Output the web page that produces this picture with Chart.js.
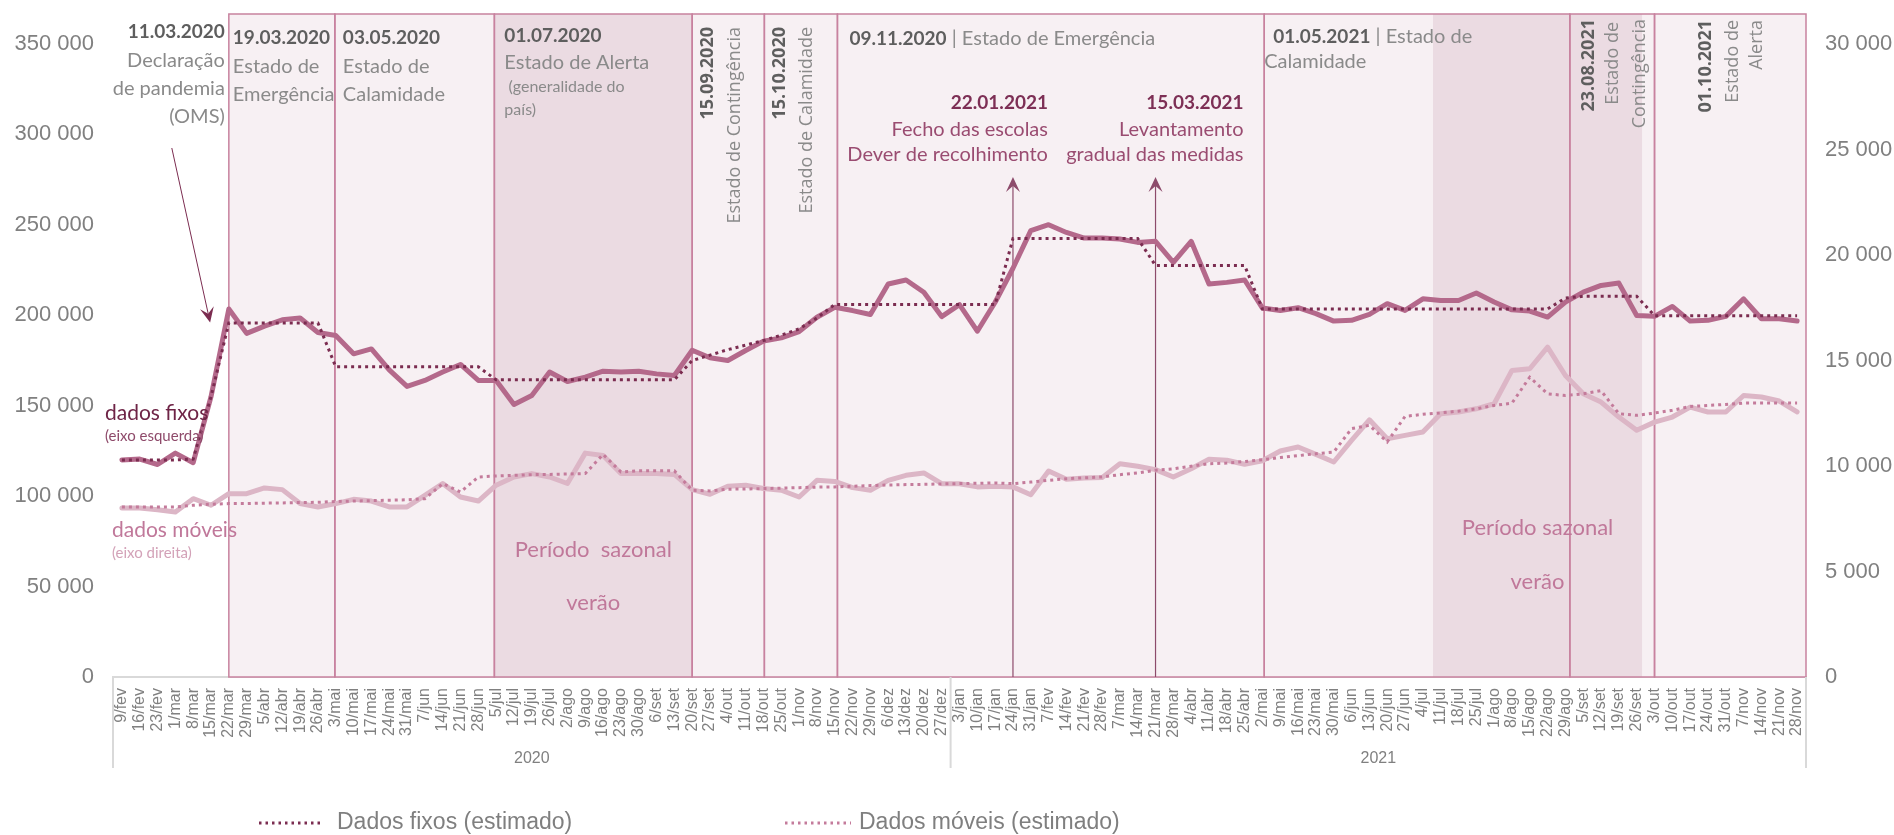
<!DOCTYPE html>
<html>
<head>
<meta charset="utf-8">
<script src="https://cdn.jsdelivr.net/npm/chart.js@4.4.1/dist/chart.umd.min.js"></script>
<style>
html,body{margin:0;padding:0;background:#ffffff;}
#wrap{position:relative;width:1894px;height:835px;}
</style>
</head>
<body>
<div id="wrap"><canvas id="c" width="1894" height="835"></canvas></div>
<script>
// ---------------- DATA ----------------
const categories = ['9/fev','16/fev','23/fev','1/mar','8/mar','15/mar','22/mar','29/mar','5/abr','12/abr','19/abr','26/abr','3/mai','10/mai','17/mai','24/mai','31/mai','7/jun','14/jun','21/jun','28/jun','5/jul','12/jul','19/jul','26/jul','2/ago','9/ago','16/ago','23/ago','30/ago','6/set','13/set','20/set','27/set','4/out','11/out','18/out','25/out','1/nov','8/nov','15/nov','22/nov','29/nov','6/dez','13/dez','20/dez','27/dez',
'3/jan','10/jan','17/jan','24/jan','31/jan','7/fev','14/fev','21/fev','28/fev','7/mar','14/mar','21/mar','28/mar','4/abr','11/abr','18/abr','25/abr','2/mai','9/mai','16/mai','23/mai','30/mai','6/jun','13/jun','20/jun','27/jun','4/jul','11/jul','18/jul','25/jul','1/ago','8/ago','15/ago','22/ago','29/ago','5/set','12/set','19/set','26/set','3/out','10/out','17/out','24/out','31/out','7/nov','14/nov','21/nov','28/nov'];

const yearLabels = ['2020', '2021'];
const yearWeekCounts = [47, 48];

// Dados fixos (left axis)
const fixedData = [120000,120500,117500,123800,118500,155000,203500,190000,194000,197500,198500,190500,188800,178700,181400,169800,160700,164000,168600,172800,164000,164000,150700,155700,168600,163400,165800,169100,168600,169100,167600,166700,
180700,176500,175000,180500,185700,187500,191000,198900,204400,202600,200400,217300,219500,212700,199300,
205900,191200,207200,226000,246800,250100,245800,242700,242700,242200,240300,240900,229300,240900,217300,218200,219500,204000,202600,204200,200900,196800,197200,200500,206400,202700,209100,208200,208200,212300,207300,203000,202300,199000,207300,212800,216500,217800,199900,199400,204900,196800,197200,199400,209100,198100,198100,196800];

const fixedEstimated = [120000,120000,120000,120000,120500,155000,195800,195800,195800,195800,195800,195800,171500,171500,171500,171500,171500,171500,171500,171500,171500,164300,164300,164300,164300,164300,164300,164300,164300,164300,164300,164300,
175000,178000,181000,183500,186000,189000,192500,198500,206000,206000,206000,206000,206000,206000,206000,
206000,206000,206000,242500,242500,242500,242500,242500,242500,242500,242500,227500,227500,227500,227500,227500,227500,203500,203500,203500,203500,203500,203500,203500,203500,203500,203500,203500,203500,203500,203500,203500,203500,203500,209500,210500,210500,210500,210500,199800,199800,199800,199800,199800,199800,199800,199800,199800];

// Dados móveis (right axis)
const mobileData = [8010,8010,7930,7820,8450,8140,8690,8690,8960,8880,8220,8060,8220,8420,8340,8060,8060,8610,9170,8530,8340,9090,9480,9640,9480,9170,10610,10500,9640,9640,9640,9600,
8880,8660,9040,9085,8930,8850,8530,9320,9270,8975,8850,9320,9560,9670,9160,
9160,9010,9040,9010,8640,9760,9370,9430,9450,10110,9990,9830,9480,9870,10320,10270,10080,10250,10710,10900,10550,10190,11215,12190,11290,11450,11610,12480,12560,12710,12950,14530,14610,15630,14290,13420,13030,12320,11690,12080,12320,12790,12560,12560,13340,13270,13080,12560];

const mobileEstimated = [8060,8060,8060,8060,8140,8190,8220,8220,8240,8250,8270,8280,8320,8340,8360,8380,8400,8450,9170,8770,9480,9530,9560,9590,9600,9620,9640,10550,9720,9770,9770,9770,
8850,8820,8900,8910,8930,8950,8975,9000,9010,9040,9070,9100,9120,9130,9150,
9165,9180,9200,9165,9240,9320,9400,9440,9480,9590,9670,9800,9870,9990,10110,10140,10210,10300,10400,10490,10580,10660,11770,11930,11140,12350,12450,12520,12600,12710,12870,12980,14210,13420,13340,13420,13570,12480,12400,12510,12640,12820,12870,12920,12980,12980,12980,12980];

// Periods (category index positions of the measures)
const periodStarts = [6, 11.95, 20.9, 32, 36.05, 40.15, 64.1, 81.25, 86];
const periodEnds   = [11.95, 20.9, 32, 36.05, 40.15, 64.1, 81.25, 86, 94.5];
const periodSummer = [false, false, true, false, false, false, false, false, false];
const summer2021 = [73.57, 85.3];

// ---------------- STYLE ----------------
const C_FIX = '#b4698b', C_FIX_EST = '#7b2c50', C_MOB = '#dcb6c6', C_MOB_EST = '#c47b9b';
const C_LIGHT = '#f7f0f3', C_DARK = '#ebdbe2', C_BORDER = '#c8829f';
const F_ANN = 'Lato, "Open Sans", sans-serif';
const F_ROT = '"Open Sans", "Noto Sans", sans-serif';
const F_TICK = '"Liberation Sans", Arial, sans-serif';
const G_DATE = '#5e5e5e', G_TEXT = '#8a8a8a';

function fmt(v){ return String(v).replace(/\B(?=(\d{3})+(?!\d))/g, ' '); }

function arrow(ctx, x0, y0, x1, y1, color, lw, len, hw){
  const a = Math.atan2(y1-y0, x1-x0), ux = Math.cos(a), uy = Math.sin(a), px = -uy, py = ux;
  ctx.strokeStyle = color; ctx.fillStyle = color; ctx.lineWidth = lw;
  ctx.beginPath(); ctx.moveTo(x0, y0); ctx.lineTo(x1 - ux*len*0.6, y1 - uy*len*0.6); ctx.stroke();
  ctx.beginPath();
  ctx.moveTo(x1, y1);
  ctx.lineTo(x1 - ux*len + px*hw, y1 - uy*len + py*hw);
  ctx.lineTo(x1 - ux*len*0.6, y1 - uy*len*0.6);
  ctx.lineTo(x1 - ux*len - px*hw, y1 - uy*len - py*hw);
  ctx.closePath(); ctx.fill();
}

function txt(ctx, s, x, y, font, color, align){
  ctx.font = font; ctx.fillStyle = color; ctx.textAlign = align || 'left'; ctx.textBaseline = 'middle';
  ctx.fillText(s, x, y);
  return ctx.measureText(s).width;
}
function rtxt(ctx, s, x, yEnd, font, color){
  ctx.save(); ctx.translate(x, yEnd); ctx.rotate(-Math.PI/2);
  ctx.font = font; ctx.fillStyle = color; ctx.textAlign = 'right'; ctx.textBaseline = 'middle';
  ctx.fillText(s, 0, 0); ctx.restore();
}

const backgroundPlugin = {
  id: 'periods',
  beforeDatasetsDraw(chart){
    const {ctx, chartArea: ca, scales} = chart;
    const x = scales.x, yL = scales.yL;
    const top = ca.top - 30, bot = ca.bottom;
    ctx.save();
    const px = periodStarts.map(v => x.getPixelForValue(v));
    const pe = periodEnds.map(v => x.getPixelForValue(v));
    for (let k = 0; k < px.length; k++){
      ctx.fillStyle = periodSummer[k] ? C_DARK : C_LIGHT;
      ctx.fillRect(px[k], top, pe[k]-px[k], bot-top);
    }
    const s0 = x.getPixelForValue(summer2021[0]), s1 = x.getPixelForValue(summer2021[1]);
    ctx.fillStyle = C_DARK; ctx.fillRect(s0, top, s1-s0, bot-top);
    ctx.strokeStyle = C_BORDER; ctx.lineWidth = 1.5;
    for (let k = 0; k < px.length; k++) ctx.strokeRect(px[k], top, pe[k]-px[k], bot-top);
    // arrows for 22.01.2021 and 15.03.2021
    const xa = x.getPixelForValue(categories.indexOf('24/jan', 47));
    const xb = x.getPixelForValue(categories.indexOf('21/mar', 47));
    arrow(ctx, xa, bot, xa, ca.top + 133, '#8d4b6b', 1.2, 15, 7);
    arrow(ctx, xb, bot, xb, ca.top + 133, '#8d4b6b', 1.2, 15, 7);
    // arrow 11.03.2020
    arrow(ctx, x.getPixelForValue(2.8), ca.top + 104, x.getPixelForValue(4.95), yL.getPixelForValue(196000), '#7b2c50', 1, 15, 7);
    ctx.restore();
  },
  afterDatasetsDraw(chart){
    const {ctx, chartArea: ca, scales} = chart;
    const x = scales.x, T = ca.top;
    const P = v => x.getPixelForValue(v);
    ctx.save();
    const bold = s => 'bold ' + s + 'px ' + F_ANN, reg = s => s + 'px ' + F_ANN;
    // 11.03.2020
    let xr = P(periodStarts[0]) - 4;
    txt(ctx, '11.03.2020', xr, T-12, bold(19), G_DATE, 'right');
    txt(ctx, 'Declaração', xr, T+17, reg(20), G_TEXT, 'right');
    txt(ctx, 'de pandemia', xr, T+45, reg(20), G_TEXT, 'right');
    txt(ctx, '(OMS)', xr, T+73, reg(20), G_TEXT, 'right');
    // 19.03.2020
    let xl = P(periodStarts[0]) + 4;
    txt(ctx, '19.03.2020', xl, T-6, bold(19), G_DATE);
    txt(ctx, 'Estado de', xl, T+23, reg(20), G_TEXT);
    txt(ctx, 'Emergência', xl, T+51, reg(20), G_TEXT);
    // 03.05.2020
    xl = P(periodStarts[1]) + 8;
    txt(ctx, '03.05.2020', xl, T-6, bold(19), G_DATE);
    txt(ctx, 'Estado de', xl, T+23, reg(20), G_TEXT);
    txt(ctx, 'Calamidade', xl, T+51, reg(20), G_TEXT);
    // 01.07.2020
    xl = P(periodStarts[2]) + 10;
    txt(ctx, '01.07.2020', xl, T-8, bold(19), G_DATE);
    txt(ctx, 'Estado de Alerta', xl, T+19, reg(20), G_TEXT);
    txt(ctx, ' (generalidade do', xl, T+43, reg(16), G_TEXT);
    txt(ctx, 'país)', xl, T+66, reg(16), G_TEXT);
    // rotated 15.09.2020 / 15.10.2020
    let xb = P(periodStarts[3]);
    rtxt(ctx, '15.09.2020', xb + 16, T-17, 'bold 18px ' + F_ROT, G_DATE);
    rtxt(ctx, 'Estado de Contingência', xb + 43, T-17, '18px ' + F_ROT, G_TEXT);
    xb = P(periodStarts[4]);
    rtxt(ctx, '15.10.2020', xb + 16, T-17, 'bold 18px ' + F_ROT, G_DATE);
    rtxt(ctx, 'Estado de Calamidade', xb + 43, T-17, '18px ' + F_ROT, G_TEXT);
    // 09.11.2020
    xl = P(periodStarts[5]) + 12;
    let w = txt(ctx, '09.11.2020', xl, T-5, bold(19), G_DATE);
    txt(ctx, ' | Estado de Emergência', xl + w, T-5, reg(20), G_TEXT);
    // 01.05.2021
    xl = P(periodStarts[6]) + 9;
    w = txt(ctx, '01.05.2021', xl, T-7, bold(19), G_DATE);
    txt(ctx, ' | Estado de', xl + w, T-7, reg(20), G_TEXT);
    txt(ctx, 'Calamidade', xl - 9, T+18, reg(20), G_TEXT);
    // 23.08.2021
    xb = P(periodStarts[7]);
    rtxt(ctx, '23.08.2021', xb + 19, T-25, 'bold 18px ' + F_ROT, G_DATE);
    rtxt(ctx, 'Estado de', xb + 43, T-22, '18px ' + F_ROT, G_TEXT);
    rtxt(ctx, 'Contingência', xb + 70, T-25, '18px ' + F_ROT, G_TEXT);
    // 01.10.2021
    xb = P(periodStarts[8]);
    rtxt(ctx, '01.10.2021', xb + 51, T-24, 'bold 18px ' + F_ROT, G_DATE);
    rtxt(ctx, 'Estado de', xb + 78, T-24, '18px ' + F_ROT, G_TEXT);
    rtxt(ctx, 'Alerta', xb + 102, T-24, '18px ' + F_ROT, G_TEXT);
    // 22.01.2021 & 15.03.2021
    const xa = P(categories.indexOf('24/jan', 47)) + 35;
    txt(ctx, '22.01.2021', xa, T+59, bold(19), '#7d2f55', 'right');
    txt(ctx, 'Fecho das escolas', xa, T+86, reg(20), '#9a4c71', 'right');
    txt(ctx, 'Dever de recolhimento', xa, T+111, reg(20), '#9a4c71', 'right');
    const xm = P(categories.indexOf('21/mar', 47)) + 88;
    txt(ctx, '15.03.2021', xm, T+59, bold(19), '#7d2f55', 'right');
    txt(ctx, 'Levantamento', xm, T+86, reg(20), '#9a4c71', 'right');
    txt(ctx, 'gradual das medidas', xm, T+111, reg(20), '#9a4c71', 'right');
    // series labels
    txt(ctx, 'dados fixos', ca.left - 8, T+369, reg(21), '#6e2446');
    txt(ctx, '(eixo esquerda)', ca.left - 8, T+392, reg(15), '#8e4a6a');
    txt(ctx, 'dados móveis', ca.left - 1, T+486, reg(21), '#c0789a');
    txt(ctx, '(eixo direita)', ca.left - 1, T+509, reg(15), '#d3a2b8');
    // summer labels
    const c1 = (P(periodStarts[2]) + P(periodEnds[2])) / 2;
    txt(ctx, 'Período  sazonal', c1, T+506, reg(22), '#c0789a', 'center');
    txt(ctx, 'verão', c1, T+559, reg(22), '#c0789a', 'center');
    const c2 = (P(summer2021[0]) + P(summer2021[1])) / 2;
    txt(ctx, 'Período sazonal', c2, T+484, reg(22), '#c0789a', 'center');
    txt(ctx, 'verão', c2, T+538, reg(22), '#c0789a', 'center');
    ctx.restore();
  },
  afterDraw(chart){
    const {ctx, chartArea: ca, scales} = chart;
    const x = scales.x;
    ctx.save();
    // year groups
    let start = 0;
    ctx.strokeStyle = '#d9d9d9'; ctx.lineWidth = 2;
    const edges = [start - 0.5];
    yearLabels.forEach((lab, k) => {
      const end = start + yearWeekCounts[k];
      const x0 = x.getPixelForValue(start - 0.5), x1 = x.getPixelForValue(end - 0.5);
      txt(ctx, lab, (x0 + x1) / 2, ca.bottom + 82, '16px ' + F_TICK, '#808080', 'center');
      edges.push(end - 0.5);
      start = end;
    });
    edges.forEach(v => {
      const xx = x.getPixelForValue(v);
      ctx.beginPath(); ctx.moveTo(xx, ca.bottom); ctx.lineTo(xx, ca.bottom + 91); ctx.stroke();
    });
    // legend (estimated series)
    const items = [
      {ds: chart.data.datasets[1], x0: 259, x1: 323, tx: 337},
      {ds: chart.data.datasets[3], x0: 785, x1: 851, tx: 859}
    ];
    const ly = ca.bottom + 146;
    items.forEach(it => {
      ctx.strokeStyle = it.ds.borderColor; ctx.lineWidth = 3; ctx.setLineDash([2.5, 4]);
      ctx.beginPath(); ctx.moveTo(it.x0, ly); ctx.lineTo(it.x1, ly); ctx.stroke();
      ctx.setLineDash([]);
      txt(ctx, it.ds.label, it.tx, ly, '23px ' + F_TICK, '#7f7f7f');
    });
    ctx.restore();
  }
};

const chart = new Chart(document.getElementById('c'), {
  type: 'line',
  data: {
    labels: categories,
    datasets: [
      {label: 'Dados fixos', data: fixedData, yAxisID: 'yL', borderColor: C_FIX, borderWidth: 5, pointRadius: 0, tension: 0, borderJoinStyle: 'round', borderCapStyle: 'round', order: 2},
      {label: 'Dados fixos (estimado)', data: fixedEstimated, yAxisID: 'yL', borderColor: C_FIX_EST, borderWidth: 3, borderDash: [3, 4], pointRadius: 0, tension: 0, order: 1},
      {label: 'Dados móveis', data: mobileData, yAxisID: 'yR', borderColor: C_MOB, borderWidth: 5, pointRadius: 0, tension: 0, borderJoinStyle: 'round', borderCapStyle: 'round', order: 4},
      {label: 'Dados móveis (estimado)', data: mobileEstimated, yAxisID: 'yR', borderColor: C_MOB_EST, borderWidth: 3, borderDash: [3, 4], pointRadius: 0, tension: 0, order: 3}
    ]
  },
  options: {
    responsive: false,
    animation: false,
    devicePixelRatio: 1,
    layout: {padding: {top: 44, left: 0, right: 0, bottom: 0}},
    plugins: {legend: {display: false}, tooltip: {enabled: false}},
    scales: {
      x: {
        type: 'category', offset: true,
        grid: {display: false, drawTicks: false},
        border: {display: true, color: '#d9d9d9', width: 2},
        ticks: {autoSkip: false, minRotation: 90, maxRotation: 90, padding: 11, color: '#808080', font: {family: F_TICK, size: 16}},
        afterFit(s){ s.height = 158; }
      },
      yL: {
        position: 'left', min: 0, max: 350000,
        grid: {display: false, drawTicks: false}, border: {display: false},
        ticks: {stepSize: 50000, padding: 19, color: '#808080', font: {family: F_TICK, size: 22}, callback: v => fmt(v)},
        afterFit(s){ s.width = 113; }
      },
      yR: {
        position: 'right', min: 0, max: 30000,
        grid: {display: false, drawTicks: false}, border: {display: false},
        ticks: {stepSize: 5000, padding: 19, color: '#808080', font: {family: F_TICK, size: 22}, callback: v => fmt(v)},
        afterFit(s){ s.width = 88; }
      }
    }
  },
  plugins: [backgroundPlugin]
});
</script>
</body>
</html>
